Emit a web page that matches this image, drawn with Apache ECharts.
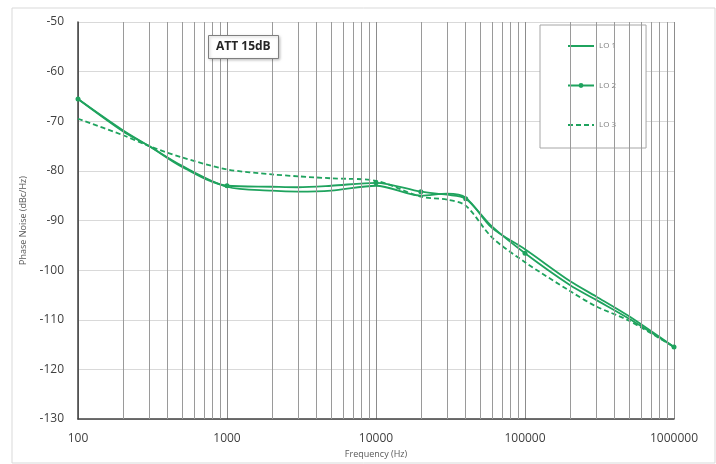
<!DOCTYPE html>
<html>
<head>
<meta charset="utf-8">
<script src="https://cdn.jsdelivr.net/npm/echarts@6/dist/echarts.min.js"></script>
<style>
  html, body { margin: 0; padding: 0; background: #fff; }
  #echart_line { width: 716px; height: 464px; }
</style>
</head>
<body>
<div id="echart_line"></div>
<script>
// frequency points (Hz)
var freq = [100, 200, 300, 500, 1000, 2000, 3000, 5000, 10000, 20000, 30000, 40000, 60000, 100000, 200000, 300000, 500000, 1000000];
var lo1 = [-65.5, -71.8, -75, -79, -83.2, -84, -84.2, -84, -83, -85, -84.6, -85.4, -91.5, -95.8, -102.2, -105.3, -109.3, -115.5];
var lo2 = [-65.5, -72, -75, -79.2, -83, -83.2, -83.3, -83, -82.4, -84.2, -84.8, -85.6, -91.2, -96.6, -103, -106, -109.8, -115.5];
var lo3 = [-69.5, -72.8, -75, -77.3, -79.7, -80.7, -81.1, -81.5, -82, -85.2, -85.8, -87, -93.4, -98.4, -104.2, -107.3, -110.2, -115.5];
var lo2Markers = [100, 1000, 10000, 20000, 40000, 100000, 1000000];
// minor grid lines of the log axis
var minorFreq = [];
[100, 1000, 10000, 100000].forEach(function (d) {
    for (var k = 2; k <= 9; k++) minorFreq.push(d * k);
});

function pairs(vals) {
    var out = [];
    for (var i = 0; i < freq.length; i++) out.push([freq[i], vals[i]]);
    return out;
}

var green = '#1fa35e';
var chart = echarts.init(document.getElementById('echart_line'));

chart.setOption({
    animation: false,
    graphic: [{
        type: 'rect',
        shape: { x: 12, y: 8, width: 703, height: 455 },
        style: { fill: 'none', stroke: '#d9d9d9', lineWidth: 1 },
        silent: true
    }],
    title: {
        text: 'ATT 15dB',
        left: 208,
        top: 35,
        padding: [6, 8],
        borderColor: '#7f7f7f',
        borderWidth: 1,
        backgroundColor: '#fff',
        shadowColor: 'rgba(0,0,0,0.25)',
        shadowBlur: 3,
        shadowOffsetX: 1,
        shadowOffsetY: 1,
        textStyle: { fontSize: 12, fontWeight: 'bold', color: '#262626', fontFamily: 'Open Sans' }
    },
    legend: {
        orient: 'vertical',
        left: 540,
        top: 25,
        padding: [17, 30, 19, 27],
        itemWidth: 26,
        itemHeight: 6,
        itemGap: 31.5,
        borderColor: '#a6a6a6',
        borderWidth: 1,
        backgroundColor: '#fff',
        textStyle: { fontSize: 8, color: '#7f7f7f', fontFamily: 'Open Sans' },
        data: [
            { name: 'LO 1', itemStyle: { opacity: 0 } },
            { name: 'LO 2' },
            { name: 'LO 3', itemStyle: { opacity: 0 } }
        ]
    },
    grid: { left: 78, right: 42, top: 22, bottom: 43 },
    xAxis: {
        type: 'log',
        logBase: 10,
        min: 100,
        max: 1000000,
        name: 'Frequency (Hz)',
        nameLocation: 'middle',
        nameGap: 31,
        nameTextStyle: { fontSize: 9, color: '#595959', fontFamily: 'Open Sans' },
        axisLine: { lineStyle: { color: '#404040', width: 1.5 } },
        axisTick: { show: false },
        axisLabel: {
            fontSize: 12, color: '#404040', margin: 14, fontFamily: 'Open Sans',
            formatter: function (v) { return String(Math.round(v)); }
        },
        splitLine: { show: true, lineStyle: { color: '#8c8c8c', width: 1 } }
    },
    yAxis: {
        type: 'value',
        min: -130,
        max: -50,
        interval: 10,
        name: 'Phase Noise (dBc/Hz)',
        nameLocation: 'middle',
        nameGap: 50,
        nameTextStyle: { fontSize: 9, color: '#595959', fontFamily: 'Open Sans' },
        axisLine: { show: true, lineStyle: { color: '#404040', width: 1.5 } },
        axisTick: { show: false },
        axisLabel: { fontSize: 12, color: '#404040', margin: 14, fontFamily: 'Open Sans' },
        splitLine: { show: true, lineStyle: { color: '#d9d9d9', width: 1 } }
    },
    series: [{
        name: 'grid',
        type: 'line',
        data: [],
        silent: true,
        z: 1,
        markLine: {
            silent: true,
            symbol: 'none',
            label: { show: false },
            lineStyle: { color: '#9a9a9a', type: 'solid', width: 1 },
            data: minorFreq.map(function (f) { return { xAxis: f }; })
        }
    }, {
        name: 'LO 1',
        type: 'line',
        smooth: 0.3,
        symbol: 'none',
        z: 3,
        lineStyle: { color: green, width: 1.8 },
        itemStyle: { color: green },
        data: pairs(lo1)
    }, {
        name: 'LO 2',
        type: 'line',
        smooth: 0.3,
        symbol: 'circle',
        symbolSize: 5,
        z: 4,
        lineStyle: { color: green, width: 1.8 },
        itemStyle: { color: green },
        data: pairs(lo2).map(function (p) {
            return { value: p, symbol: lo2Markers.indexOf(p[0]) >= 0 ? 'circle' : 'none' };
        })
    }, {
        name: 'LO 3',
        type: 'line',
        smooth: 0.3,
        symbol: 'none',
        z: 3,
        lineStyle: { color: green, width: 1.8, type: [5, 3] },
        itemStyle: { color: green },
        data: pairs(lo3)
    }]
});
</script>
</body>
</html>
